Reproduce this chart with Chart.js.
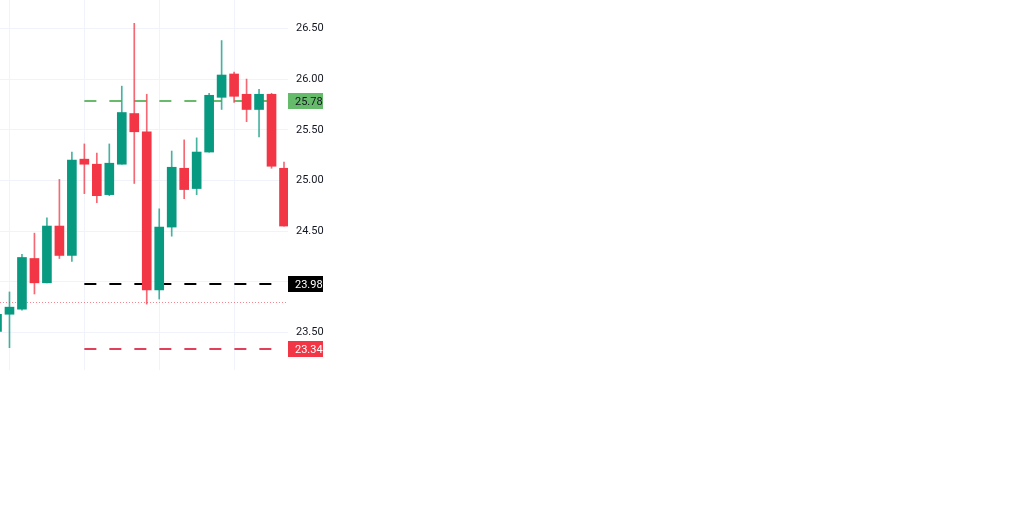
<!DOCTYPE html>
<html>
<head>
<meta charset="utf-8">
<script src="https://cdn.jsdelivr.net/npm/chart.js@4/dist/chart.umd.min.js"></script>
<style>
  html, body { margin: 0; padding: 0; background: #fff; width: 1024px; height: 517px; overflow: hidden; }
  #wrap { position: absolute; left: 0; top: 0; width: 330px; height: 370px; }
</style>
</head>
<body>
<div id="wrap"><canvas id="chart" width="330" height="370"></canvas></div>
<script>
// candle data
const opens  = [23.51, 23.68, 23.73, 24.23, 23.99, 24.55, 24.26, 25.21, 25.16, 24.86, 25.16, 25.66, 25.48, 23.92, 24.54, 25.12, 24.92, 25.28, 25.82, 26.05, 25.85, 25.70, 25.85, 25.12];
const highs  = [23.70, 23.90, 24.27, 24.48, 24.63, 25.01, 25.28, 25.36, 25.27, 25.36, 25.93, 26.55, 25.85, 24.72, 25.29, 25.40, 25.42, 25.86, 26.38, 26.07, 26.00, 25.90, 25.86, 25.18];
const lows   = [23.48, 23.35, 23.72, 23.88, 23.99, 24.23, 24.20, 24.87, 24.78, 24.85, 25.16, 24.97, 23.78, 23.83, 24.45, 24.82, 24.86, 25.28, 25.70, 25.77, 25.58, 25.43, 25.12, 24.55];
const closes = [23.68, 23.75, 24.24, 23.99, 24.55, 24.26, 25.20, 25.16, 24.85, 25.17, 25.67, 25.48, 23.92, 24.54, 25.13, 24.91, 25.28, 25.84, 26.04, 25.83, 25.70, 25.85, 25.14, 24.55];

const yTicks = [23.5, 24.0, 24.5, 25.0, 25.5, 26.0, 26.5];
const xGridAt = [1, 7, 13, 19];

// horizontal price levels
const levelValues = [25.78, 23.98, 23.34];
const levelLabels = ["25.78", "23.98", "23.34"];
const levelStart = 7;
const lowMarker = 23.80;

const UP = "#089981";
const DOWN = "#f23645";
const levelColors = ["rgba(76,175,80,0.85)", "#000000", "#e0405a"];
const badgeColors = ["#66bb6a", "#000000", "#f23645"];
const badgeText = ["#131722", "#ffffff", "#ffffff"];

const bodies = opens.map((o, i) => ({ x: i, y: [o, closes[i]] }));
const wicks = opens.map((o, i) => ({ x: i, y: [lows[i], highs[i]] }));
const colors = opens.map((o, i) => closes[i] >= o ? UP : DOWN);
const wickColors = opens.map((o, i) => closes[i] >= o ? "rgba(8,153,129,0.75)" : "rgba(242,54,69,0.75)");

const levelsPlugin = {
    id: "levels",
    beforeDatasetsDraw(chart) {
        const { ctx, chartArea } = chart;
        const xs = chart.scales.x, ys = chart.scales.y;
        ctx.save();
        // dotted marker line
        ctx.strokeStyle = "rgba(242,54,69,0.6)";
        ctx.lineWidth = 1;
        ctx.setLineDash([1, 2]);
        const ym = Math.round(ys.getPixelForValue(lowMarker)) + 0.5;
        ctx.beginPath();
        ctx.moveTo(chartArea.left, ym);
        ctx.lineTo(chartArea.right, ym);
        ctx.stroke();
        // dashed levels
        ctx.lineWidth = 2;
        ctx.setLineDash([12, 13]);
        const x0 = xs.getPixelForValue(levelStart);
        levelValues.forEach((v, i) => {
            const y = Math.round(ys.getPixelForValue(v));
            ctx.strokeStyle = levelColors[i];
            ctx.beginPath();
            ctx.moveTo(x0, y);
            ctx.lineTo(chartArea.right - 6, y);
            ctx.stroke();
        });
        ctx.restore();
    },
    afterDraw(chart) {
        const { ctx, chartArea } = chart;
        const ys = chart.scales.y;
        ctx.save();
        ctx.font = "11px Roboto, 'Noto Sans', sans-serif";
        ctx.textBaseline = "middle";
        levelValues.forEach((v, i) => {
            const y = Math.round(ys.getPixelForValue(v));
            const x = chartArea.right;
            ctx.fillStyle = badgeColors[i];
            ctx.fillRect(x, y - 8, 35, 16);
            ctx.fillStyle = badgeText[i];
            ctx.fillText(levelLabels[i], x + 7, y + 1);
        });
        ctx.restore();
    }
};

new Chart(document.getElementById("chart"), {
    type: "bar",
    data: {
        datasets: [
            {
                data: bodies,
                backgroundColor: colors,
                barThickness: 9,
                minBarLength: 1,
                grouped: false
            },
            {
                data: wicks,
                backgroundColor: wickColors,
                barThickness: 1,
                grouped: false
            }
        ]
    },
    options: {
        responsive: false,
        animation: false,
        layout: { padding: 0 },
        plugins: { legend: { display: false }, tooltip: { enabled: false } },
        scales: {
            x: {
                type: "linear",
                offset: false,
                min: 0.24,
                max: 23.32,
                afterBuildTicks: s => { s.ticks = xGridAt.map(v => ({ value: v })); },
                afterFit: s => { s.height = 0; s.paddingLeft = 0; s.paddingRight = 0; },
                ticks: { display: false },
                grid: { color: "#f0f3fa", drawTicks: false, offset: false },
                border: { display: false }
            },
            y: {
                position: "right",
                min: 23.13,
                max: 26.78,
                afterBuildTicks: s => { s.ticks = yTicks.map(v => ({ value: v })); },
                afterFit: s => { s.width = 42; s.paddingTop = 0; s.paddingBottom = 0; },
                ticks: {
                    padding: 8,
                    color: "#131722",
                    font: { family: "Roboto, 'Noto Sans', sans-serif", size: 11 },
                    callback: v => (Math.abs(v - 24) < 0.001 ? "" : v.toFixed(2))
                },
                grid: { color: "#f0f3fa", drawTicks: false },
                border: { display: false }
            }
        }
    },
    plugins: [levelsPlugin]
});
</script>
</body>
</html>
